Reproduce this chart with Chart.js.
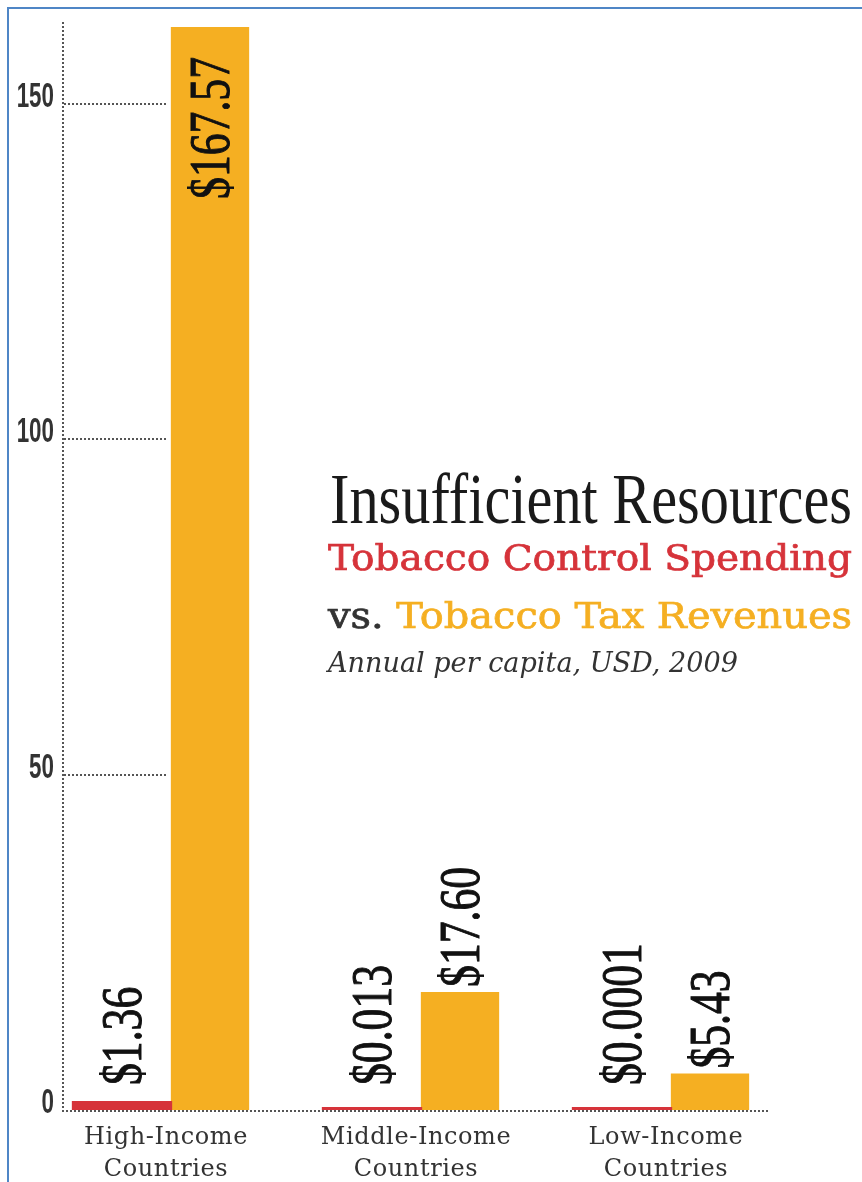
<!DOCTYPE html>
<html>
<head>
<meta charset="utf-8">
<script src="https://cdn.jsdelivr.net/npm/chart.js@4/dist/chart.umd.min.js"></script>
<style>
  html, body { margin: 0; padding: 0; background: #fff; }
  #wrap { position: relative; width: 862px; height: 1182px; overflow: hidden; }
  #frame { position: absolute; left: 7px; top: 7px; right: 0; bottom: 0;
           border-left: 2px solid #4f86c6; border-top: 2px solid #4f86c6; pointer-events: none; }
  canvas { position: absolute; left: 0; top: 0; }
</style>
</head>
<body>
<div id="wrap">
  <canvas id="myChart" width="862" height="1182"></canvas>
  <div id="frame"></div>
</div>
<script>
// per capita figures, USD, 2009
var categories = [['High-Income', 'Countries'], ['Middle-Income', 'Countries'], ['Low-Income', 'Countries']];
var spending = [1.36, 0.013, 0.0001];
var taxRevenue = [167.57, 17.60, 5.43];
var spendingLabels = ['$1.36', '$0.013', '$0.0001'];
var revenueLabels = ['$167.57', '$17.60', '$5.43'];
var yTicks = [0, 50, 100, 150];

var RED = '#d6333a';
var ORANGE = '#f5af22';
var DOTS = '#555';

function points(values) {
    return values.map(function (v, i) { return { x: i, y: v }; });
}

// text squeezed/stretched horizontally to fill a given width
function fitText(ctx, parts, x, y, width, weight) {
    var total = 0;
    parts.forEach(function (p) { ctx.font = p.font; p.w = ctx.measureText(p.text).width; total += p.w; });
    var k = width / total;
    ctx.save();
    ctx.translate(x, y);
    ctx.scale(k, 1);
    var cx = 0;
    parts.forEach(function (p) {
        ctx.font = p.font;
        ctx.fillStyle = p.color;
        ctx.strokeStyle = p.color;
        ctx.lineWidth = weight || 0;
        ctx.textAlign = 'left';
        ctx.textBaseline = 'alphabetic';
        ctx.fillText(p.text, cx, 0);
        if (weight) ctx.strokeText(p.text, cx, 0);
        cx += p.w;
    });
    ctx.restore();
}

function dotted(ctx, x1, y1, x2, y2) {
    ctx.beginPath();
    ctx.moveTo(x1, y1);
    ctx.lineTo(x2, y2);
    ctx.stroke();
}

var decor = {
    id: 'decor',
    beforeDraw: function (chart) {
        // a little tracking for the category names
        chart.ctx.letterSpacing = '0.6px';
    },
    beforeDatasetsDraw: function (chart) {
        var ctx = chart.ctx, area = chart.chartArea, y = chart.scales.y;
        ctx.letterSpacing = '0px';
        ctx.save();
        ctx.strokeStyle = DOTS;
        ctx.lineWidth = 2;
        ctx.setLineDash([2, 2]);
        // axis lines
        dotted(ctx, area.left + 1, area.top - 5, area.left + 1, area.bottom);
        dotted(ctx, area.left, area.bottom + 1, area.right, area.bottom + 1);
        // short grid marks
        y.ticks.forEach(function (t) {
            if (t.value === 0) return;
            var py = Math.round(y.getPixelForValue(t.value));
            dotted(ctx, area.left + 2, py, area.left + 106, py);
        });
        ctx.restore();
    },
    afterDatasetsDraw: function (chart) {
        var ctx = chart.ctx, area = chart.chartArea, y = chart.scales.y;
        var labelSets = [spendingLabels, revenueLabels];

        // rotated value labels
        chart.data.datasets.forEach(function (ds, di) {
            chart.getDatasetMeta(di).data.forEach(function (bar, i) {
                var inside = bar.y < area.top;
                var anchor = inside ? area.top + 30 : Math.min(bar.y, bar.base - 20) - 5;
                ctx.save();
                ctx.translate(bar.x, anchor);
                ctx.rotate(-Math.PI / 2);
                ctx.scale(0.78, 1);
                ctx.font = '56px "Liberation Serif"';
                ctx.fillStyle = '#111';
                ctx.strokeStyle = '#111';
                ctx.lineWidth = 1;
                ctx.textAlign = inside ? 'right' : 'left';
                ctx.textBaseline = 'alphabetic';
                ctx.fillText(labelSets[di][i], 0, 19);
                ctx.strokeText(labelSets[di][i], 0, 19);
                ctx.restore();
            });
        });

        // condensed y tick labels
        y.ticks.forEach(function (t) {
            var py = y.getPixelForValue(t.value);
            ctx.save();
            ctx.translate(area.left - 8, py + 3);
            ctx.scale(0.64, 1);
            ctx.font = 'bold 35px "Liberation Sans"';
            ctx.fillStyle = '#333';
            ctx.textAlign = 'right';
            ctx.textBaseline = 'alphabetic';
            ctx.fillText(String(t.value), 0, 0);
            ctx.restore();
        });
    },
    afterDraw: function (chart) {
        var ctx = chart.ctx;
        fitText(ctx, [{ text: 'Insufficient Resources', font: '72px "Liberation Serif"', color: '#1a1a1a' }], 330, 523, 522);
        fitText(ctx, [{ text: 'Tobacco Control Spending', font: '35px "DejaVu Serif"', color: RED }], 328, 570, 524, 0.7);
        fitText(ctx, [
            { text: 'vs. ', font: '35px "DejaVu Serif"', color: '#333' },
            { text: 'Tobacco Tax Revenues', font: '35px "DejaVu Serif"', color: ORANGE }
        ], 328, 628, 524, 0.7);
        fitText(ctx, [{ text: 'Annual per capita, USD, 2009', font: 'italic 27px "DejaVu Serif"', color: '#333' }], 328, 672, 410);
    }
};

window.addEventListener('load', function () {
    var ctx = document.getElementById('myChart').getContext('2d');
    var chart = new Chart(ctx, {
        type: 'bar',
        data: {
            datasets: [{
                label: 'Tobacco Control Spending',
                data: points(spending),
                backgroundColor: RED,
                categoryPercentage: 0.704,
                barPercentage: 1.14,
                minBarLength: 3
            }, {
                label: 'Tobacco Tax Revenues',
                data: points(taxRevenue),
                backgroundColor: ORANGE,
                categoryPercentage: 0.704,
                barPercentage: 0.89
            }]
        },
        options: {
            responsive: false,
            animation: false,
            devicePixelRatio: 1,
            layout: { padding: { top: 27, right: 92, left: 0, bottom: 0 } },
            plugins: {
                legend: { display: false },
                tooltip: { enabled: false }
            },
            scales: {
                x: {
                    type: 'linear',
                    offset: false,
                    bounds: 'data',
                    min: -0.416,
                    max: 2.416,
                    afterFit: function (s) { s.height = 72; },
                    // one tick per income group
                    afterBuildTicks: function (s) { s.ticks = categories.map(function (c, i) { return { value: i }; }); },
                    grid: { display: false, drawTicks: false, offset: false },
                    border: { display: false },
                    ticks: {
                        autoSkip: false,
                        maxRotation: 0,
                        padding: 12,
                        color: '#333',
                        font: { family: '"DejaVu Serif"', size: 24, lineHeight: 1.33 },
                        callback: function (v) { return categories[v] || ''; }
                    }
                },
                y: {
                    min: 0,
                    max: 161.47,
                    afterFit: function (s) { s.width = 62; },
                    afterBuildTicks: function (s) { s.ticks = yTicks.map(function (v) { return { value: v }; }); },
                    grid: { display: false, drawTicks: false },
                    border: { display: false },
                    ticks: { display: false }
                }
            }
        },
        plugins: [decor]
    });
});
</script>
</body>
</html>
